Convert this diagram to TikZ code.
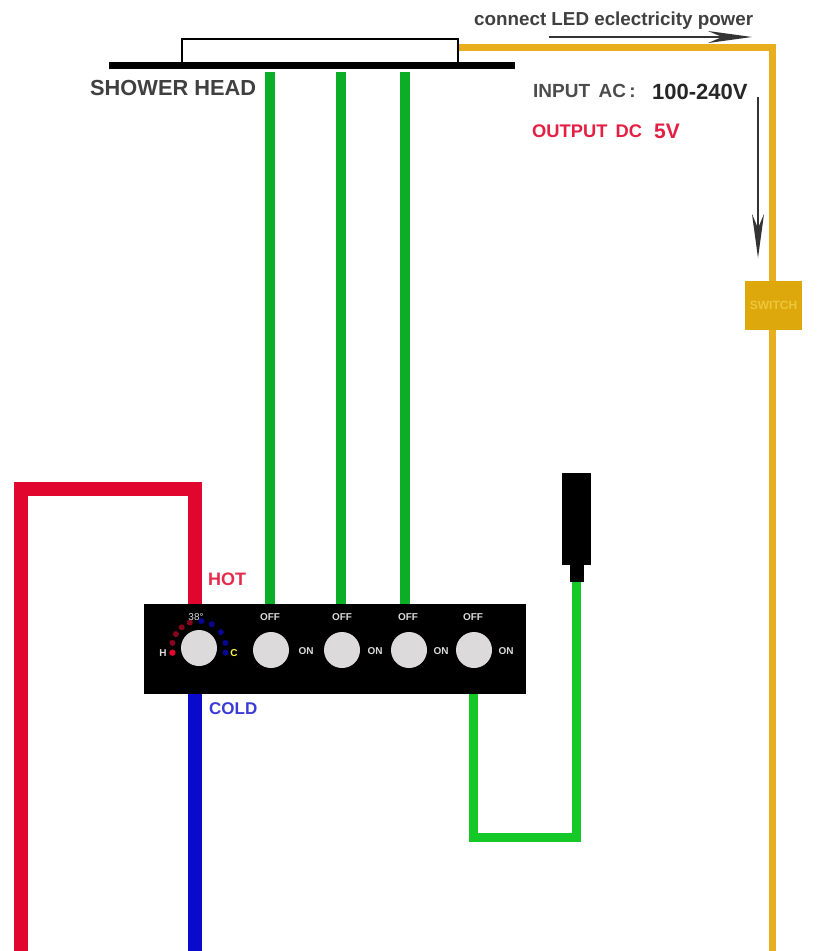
\documentclass[tikz,border=0pt]{standalone}
\usepackage{fontspec}
\usepackage{xcolor}
\setmainfont{Liberation Sans}
\usetikzlibrary{arrows.meta}
\definecolor{hotred}{HTML}{E0062E}
\definecolor{coldblue}{HTML}{0A0ACC}
\definecolor{headgreen}{HTML}{0CAE28}
\definecolor{plugGreen}{HTML}{14C828}
\definecolor{powerYellow}{HTML}{E8AE1E}
\definecolor{switchYellow}{HTML}{DCA80C}
\definecolor{switchText}{HTML}{EEC63C}
\definecolor{knobgray}{HTML}{DCDADA}
\tikzset{
  wire/.style={line width=#1, line join=miter},
  box/.style={fill=black, inner sep=0pt},
  knob/.style={circle, fill=knobgray, inner sep=0pt, minimum size=36pt},
  tag/.style={font=\fontsize{10}{12}\selectfont\bfseries, text=knobgray, inner sep=0pt},
  label/.style={font=\fontsize{#1}{#1}\selectfont\bfseries, inner sep=0pt, anchor=west},
  thinarrow/.style={draw=black!80, line width=2pt, -{Stealth[length=44pt, width=12pt]}}
}
\begin{document}
\begin{tikzpicture}[x=1pt, y=-1pt]
  % Fix the page
  \useasboundingbox[fill=white] (0,0) rectangle (837,951);

  % Shower head
  \node[box, minimum width=406pt, minimum height=7pt] (bar) at (312,65.5) {};
  \node[draw=black, line width=2.5pt, inner sep=0pt, minimum width=276pt, minimum height=24pt] (head) at (320,51) {};
  \node[label=21.8, text=black!75] (headlabel) at (90,88) {SHOWER HEAD};

  % Panel and plug
  \node[box, minimum width=382pt, minimum height=90pt] (panel) at (335,649) {};
  \node[box, minimum width=29pt, minimum height=92pt] (plug) at (576.5,519) {};
  \node[box, minimum width=14pt, minimum height=18pt] (neck) at (577,573) {};

  % Knobs
  \node[knob] (mixer) at (199,648) {};
  \node[knob] (knoba) at (271,650) {};
  \node[knob] (knobb) at (342,650) {};
  \node[knob] (knobc) at (409,650) {};
  \node[knob] (knobd) at (474,650) {};

  % Dots round the mixer
  \foreach \a in {110,130,149,169}
    \fill[hotred!60!black] ([shift={(\a:27pt)}]mixer.center) circle (3pt);
  \fill[hotred] ([shift={(190:27pt)}]mixer.center) circle (3.2pt);
  \foreach \a in {85,62,36,11,-10}
    \fill[coldblue!70!black] ([shift={(\a:27pt)}]mixer.center) circle (3pt);

  % Panel labels
  \node[tag, font=\fontsize{10}{10}\selectfont] (temp) at (196,617) {38°};
  \node[tag] (hmark) at (163,653) {H};
  \node[tag, text=yellow!70!white] (cmark) at (234,653) {C};
  \foreach \x/\n in {270/a,342/b,408/c,473/d}
    \node[tag] (off\n) at (\x,617) {OFF};
  \foreach \x/\n in {306/a,375/b,441/c,506/d}
    \node[tag] (on\n) at (\x,651) {ON};

  % Green wires to the head
  \coordinate (outa) at (270,72);
  \coordinate (outb) at (341,72);
  \coordinate (outc) at (405,72);
  \draw[wire=10pt, headgreen] (outa) -- (outa |- panel.north);
  \draw[wire=10pt, headgreen] (outb) -- (outb |- panel.north);
  \draw[wire=10pt, headgreen] (outc) -- (outc |- panel.north);

  % Hot and cold
  \coordinate (hotturn) at (195,489);
  \coordinate (hotback) at (21,489);
  \coordinate (hotend) at (21,951);
  \coordinate (coldend) at (195,951);
  \draw[wire=14pt, hotred] (hotend) -- (hotback) -- (hotturn) -- (hotturn |- panel.north);
  \draw[wire=14pt, coldblue] (coldend |- panel.south) -- (coldend);

  % Plug wire
  \coordinate (loopa) at (473,837);
  \coordinate (loopb) at (576,837);
  \draw[wire=9pt, plugGreen] (loopa |- panel.south) -- (loopa) -- (loopb) -- (loopb |- neck.south);

  % Power line
  \node[fill=switchYellow, minimum width=57pt, minimum height=49pt, inner sep=0pt, text=switchText,
    font=\fontsize{12}{12}\selectfont\bfseries] (switch) at (773.5,305.5) {SWITCH};
  \coordinate (corner) at (772,47);
  \coordinate (powerend) at (772,951);
  \draw[wire=7pt, powerYellow] (head.east |- corner) -- (corner) -- (corner |- switch.north);
  \draw[wire=7pt, powerYellow] (corner |- switch.south) -- (powerend);

  % Thin arrows
  \coordinate (arrowa) at (549,37);
  \coordinate (arrowb) at (752,37);
  \coordinate (arrowc) at (758,97);
  \coordinate (arrowd) at (758,258);
  \draw[thinarrow] (arrowa) -- (arrowb);
  \draw[thinarrow] (arrowc) -- (arrowd);

  % Texts
  \node[label=18.8, text=black!75] (connect) at (474,21) {connect LED eclectricity power};
  \node[label=19, text=black!70] (input) at (533,91) {INPUT\, AC\,:};
  \node[label=22, text=black!85] (volts) at (652,92) {100-240V};
  \node[label=18.3, text=hotred!90] (output) at (532,131) {OUTPUT\, DC};
  \node[label=21, text=hotred!90] (outvolts) at (654,131) {5V};
  \node[label=18, text=hotred!85] (hot) at (208,579) {HOT};
  \node[label=17, text=coldblue!80] (cold) at (209,709) {COLD};
\end{tikzpicture}
\end{document}
